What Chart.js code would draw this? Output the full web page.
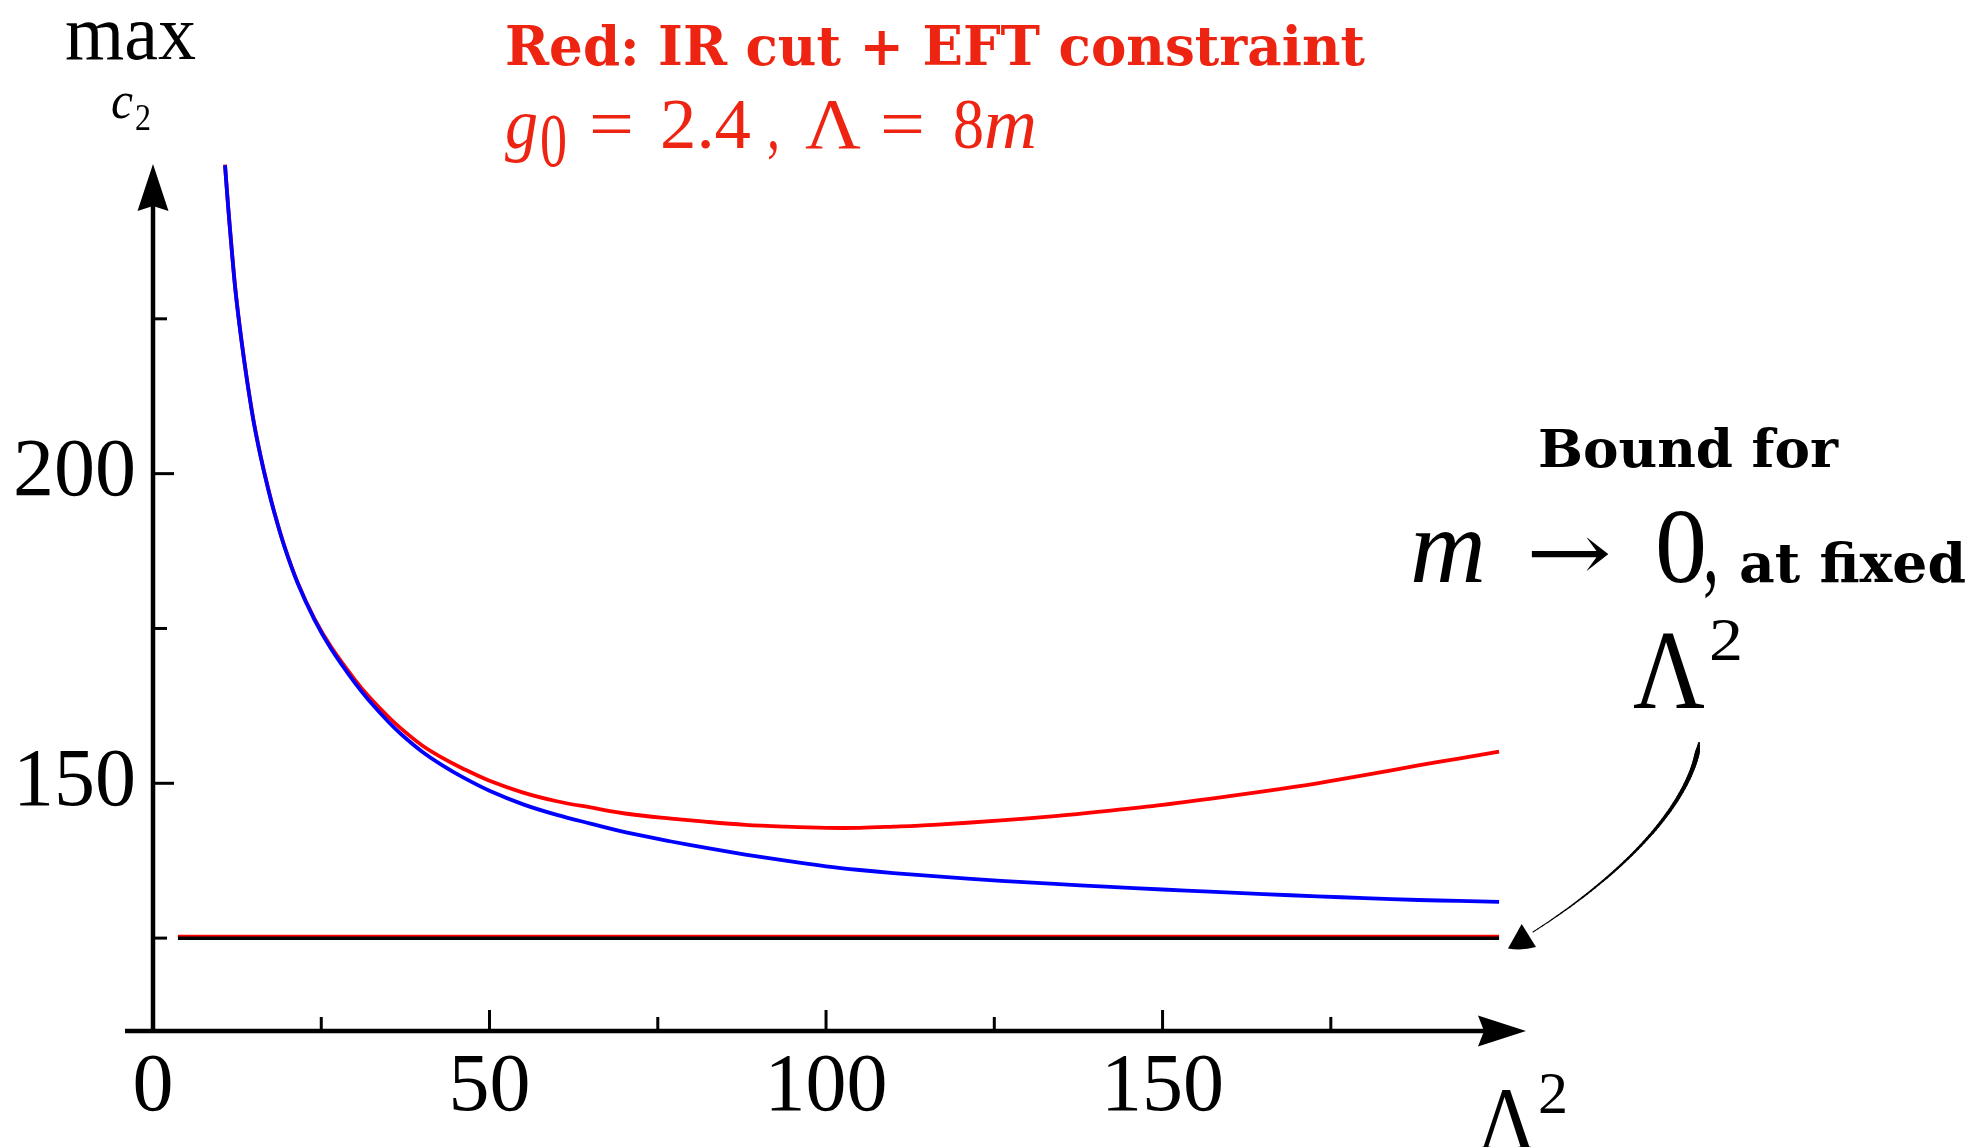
<!DOCTYPE html>
<html>
<head>
<meta charset="utf-8">
<script src="https://cdn.jsdelivr.net/npm/chart.js@4.4.0/dist/chart.umd.min.js"></script>
<style>
html,body{margin:0;padding:0;background:#fff;overflow:hidden}
#wrap{width:1979px;height:1147px;position:relative}
</style>
</head>
<body>
<div id="wrap"><canvas id="c"></canvas></div>
<script>
// ---- data ----
const lambda2 = [10.7, 11.2, 11.7, 12.2, 12.8, 13.5, 14.2, 15, 16, 17,
                 18, 19.5, 21.5, 24, 26.5, 30, 32, 35, 37, 40,
                 43, 46, 50, 55, 60, 65, 71, 77, 82, 88,
                 94, 100, 105, 110, 116, 126, 134, 141.5, 150, 157,
                 165, 173, 180, 188, 194, 200];
const blueBound = [249.8, 242.6, 236.1, 230.1, 224.4, 218.6, 213.4, 208.1, 202.7, 198.0,
                   193.8, 188.3, 182.3, 176.4, 171.65, 166.2, 163.5, 159.9, 157.8, 155.1,
                   152.9, 151.0, 148.8, 146.6, 144.9, 143.5, 141.9, 140.6, 139.6, 138.5,
                   137.5, 136.6, 136.0, 135.5, 135.0, 134.25, 133.75, 133.3, 132.85, 132.5,
                   132.1, 131.75, 131.45, 131.15, 131.0, 130.85];
const redBound = [249.9, 242.7, 236.2, 230.2, 224.5, 218.7, 213.5, 208.2, 202.8, 198.1,
                  193.9, 188.4, 182.4, 176.55, 171.95, 166.7, 164.1, 160.7, 158.7, 156.1,
                  154.1, 152.4, 150.4, 148.5, 147.1, 146.1, 145.0, 144.3, 143.8, 143.3,
                  143.0, 142.8, 142.8, 143.0, 143.3, 144.0, 144.7, 145.5, 146.5, 147.5,
                  148.7, 150.0, 151.3, 152.9, 154.0, 155.1];
const masslessX = [3.7, 200];
const masslessBound = [125, 125];
const masslessRedBound = [125.4, 125.4];
const xTickLabels = [0, 50, 100, 150];
const yTickLabels = [150, 200];
const xMajorTicks = [50, 100, 150];
const xMinorTicks = [25, 75, 125, 175];
const yMajorTicks = [150, 200];
const yMinorTicks = [125, 175, 225];
const xRange = [0, 204];
const yRange = [110, 250];

const pts = (xs, ys) => xs.map((x, i) => ({x: x, y: ys[i]}));

const RED_TXT = '#ee2412';
const SERIF = '"Liberation Serif", "Times New Roman", serif';
const TYPE = '"DejaVu Serif", serif';

function txt(ctx, s, x, y, font, color, w) {
  ctx.save();
  ctx.font = font;
  ctx.fillStyle = color;
  ctx.textAlign = 'left';
  ctx.textBaseline = 'alphabetic';
  const m = ctx.measureText(s).width;
  const sx = w ? w / m : 1;
  ctx.translate(x, y);
  ctx.scale(sx, 1);
  ctx.fillText(s, 0, 0);
  ctx.restore();
}

const deco = {
  id: 'deco',
  afterDraw(chart) {
    const ctx = chart.ctx;
    const xs = chart.scales.x, ys = chart.scales.y;
    const x0 = xs.getPixelForValue(0);
    const yb = ys.getPixelForValue(yRange[0]);
    const yt = ys.getPixelForValue(yRange[1]);
    const xr = xs.getPixelForValue(xRange[1]);
    ctx.save();
    ctx.strokeStyle = '#000';
    ctx.fillStyle = '#000';
    // y axis
    ctx.lineWidth = 4.5;
    ctx.beginPath(); ctx.moveTo(x0, yb + 2); ctx.lineTo(x0, yt + 40); ctx.stroke();
    ctx.beginPath();
    ctx.moveTo(x0, yt); ctx.lineTo(x0 + 15.5, yt + 47); ctx.lineTo(x0, yt + 42); ctx.lineTo(x0 - 15.5, yt + 47);
    ctx.closePath(); ctx.fill();
    // x axis
    ctx.beginPath(); ctx.moveTo(x0 - 28, yb); ctx.lineTo(xr - 40, yb); ctx.stroke();
    ctx.beginPath();
    ctx.moveTo(xr, yb); ctx.lineTo(xr - 48, yb - 15.5); ctx.lineTo(xr - 42, yb); ctx.lineTo(xr - 48, yb + 15.5);
    ctx.closePath(); ctx.fill();
    // ticks
    ctx.lineWidth = 3;
    const seg = (a, b, c, d) => { ctx.beginPath(); ctx.moveTo(a, b); ctx.lineTo(c, d); ctx.stroke(); };
    xMajorTicks.forEach(v => { const p = xs.getPixelForValue(v); seg(p, yb, p, yb - 21); });
    xMinorTicks.forEach(v => { const p = xs.getPixelForValue(v); seg(p, yb, p, yb - 14); });
    yMajorTicks.forEach(v => { const p = ys.getPixelForValue(v); seg(x0, p, x0 + 21, p); });
    yMinorTicks.forEach(v => { const p = ys.getPixelForValue(v); seg(x0, p, x0 + 14, p); });

    // curved annotation arrow
    const P0 = [1699, 743], C1 = [1692, 800], C2 = [1630, 870], P3 = [1533, 932];
    const bz = t => {
      const u = 1 - t;
      return [u*u*u*P0[0] + 3*u*u*t*C1[0] + 3*u*t*t*C2[0] + t*t*t*P3[0],
              u*u*u*P0[1] + 3*u*u*t*C1[1] + 3*u*t*t*C2[1] + t*t*t*P3[1]];
    };
    ctx.lineCap = 'round';
    const N = 60;
    for (let i = 0; i < N; i++) {
      const t0 = i / N, t1 = (i + 1) / N;
      const a = bz(t0), b = bz(t1);
      let w = 1.0 + 4.2 * Math.pow(1 - t0, 1.1);
      if (t0 < 0.05) w *= 0.4 + 0.6 * t0 / 0.05;
      ctx.lineWidth = w;
      seg(a[0], a[1], b[0], b[1]);
    }
    ctx.beginPath();
    ctx.moveTo(1521.7, 924); ctx.lineTo(1536, 947);
    ctx.quadraticCurveTo(1522, 951, 1508, 948.5);
    ctx.closePath(); ctx.fill();
    ctx.restore();

    // ---- texts ----
    // y-axis label
    txt(ctx, 'max', 65, 59, `78px ${SERIF}`, '#000', 131);
    txt(ctx, 'c', 111, 118, `italic 52px ${SERIF}`, '#000', 22);
    txt(ctx, '2', 135, 130, `38px ${SERIF}`, '#000', 16);
    // red header
    txt(ctx, 'Red: IR cut + EFT constraint', 505, 65, `bold 55px ${TYPE}`, RED_TXT, 860);
    txt(ctx, 'g', 505, 148, `italic 72px ${SERIF}`, RED_TXT, 33);
    txt(ctx, '0', 540, 166, `76px ${SERIF}`, RED_TXT, 27);
    txt(ctx, '=', 589, 148, `72px ${SERIF}`, RED_TXT, 45);
    txt(ctx, '2.4', 660, 148, `72px ${SERIF}`, RED_TXT, 91);
    txt(ctx, ',', 767, 148, `72px ${SERIF}`, RED_TXT, 13);
    txt(ctx, 'Λ', 805, 148, `72px ${SERIF}`, RED_TXT, 56);
    txt(ctx, '=', 880, 148, `72px ${SERIF}`, RED_TXT, 45);
    txt(ctx, '8', 953, 148, `72px ${SERIF}`, RED_TXT, 31);
    txt(ctx, 'm', 984, 148, `italic 72px ${SERIF}`, RED_TXT, 53);
    // annotation
    txt(ctx, 'Bound for', 1538, 467, `bold 53px ${TYPE}`, '#000', 300);
    txt(ctx, 'm', 1410, 582, `italic 106px ${SERIF}`, '#000', 76);
    txt(ctx, '→', 1526, 580, `80px "DejaVu Serif", serif`, '#000', 86);
    txt(ctx, '0', 1655, 582, `106px ${SERIF}`, '#000', 52);
    txt(ctx, ',', 1703, 582, `106px ${SERIF}`, '#000', 16);
    txt(ctx, 'at fixed', 1739, 582, `bold 55px ${TYPE}`, '#000', 227);
    txt(ctx, 'Λ', 1633, 708, `112px ${SERIF}`, '#000', 72);
    txt(ctx, '2', 1709, 660, `62px ${SERIF}`, '#000', 34);
    // x-axis label
    txt(ctx, 'Λ', 1477, 1150, `90px ${SERIF}`, '#000', 60);
    txt(ctx, '2', 1538, 1113, `60px ${SERIF}`, '#000', 30);
  }
};

const tickFont = {family: 'Liberation Serif', size: 82};

new Chart(document.getElementById('c'), {
  type: 'line',
  data: {
    datasets: [
      {label: 'massive (no EFT)', data: pts(lambda2, blueBound), borderColor: '#0000ff', borderWidth: 3.8,
       pointRadius: 0, tension: 0.35, fill: false},
      {label: 'IR cut + EFT', data: pts(lambda2, redBound), borderColor: '#ff0000', borderWidth: 3.8,
       pointRadius: 0, tension: 0.35, fill: false},
      {label: 'm→0 red', data: pts(masslessX, masslessRedBound), borderColor: '#ff0000', borderWidth: 1.8,
       pointRadius: 0, fill: false},
      {label: 'm→0', data: pts(masslessX, masslessBound), borderColor: '#000000', borderWidth: 4,
       pointRadius: 0, fill: false}
    ]
  },
  options: {
    responsive: true,
    maintainAspectRatio: false,
    animation: false,
    devicePixelRatio: 1,
    layout: {padding: {left: 0, top: 164, right: 453, bottom: 0}},
    plugins: {legend: {display: false}, tooltip: {enabled: false}},
    scales: {
      x: {
        type: 'linear', min: xRange[0], max: xRange[1],
        afterBuildTicks: s => { s.ticks = xTickLabels.map(v => ({value: v})); },
        afterFit: s => { s.height = 116; },
        ticks: {font: tickFont, color: '#000', padding: 8, maxRotation: 0, autoSkip: false},
        grid: {display: false, drawTicks: false},
        border: {display: false}
      },
      y: {
        type: 'linear', min: yRange[0], max: yRange[1],
        afterBuildTicks: s => { s.ticks = yTickLabels.map(v => ({value: v})); },
        afterFit: s => { s.width = 153; },
        ticks: {font: tickFont, color: '#000', padding: 17, autoSkip: false},
        grid: {display: false, drawTicks: false},
        border: {display: false}
      }
    }
  },
  plugins: [deco]
});
</script>
</body>
</html>
